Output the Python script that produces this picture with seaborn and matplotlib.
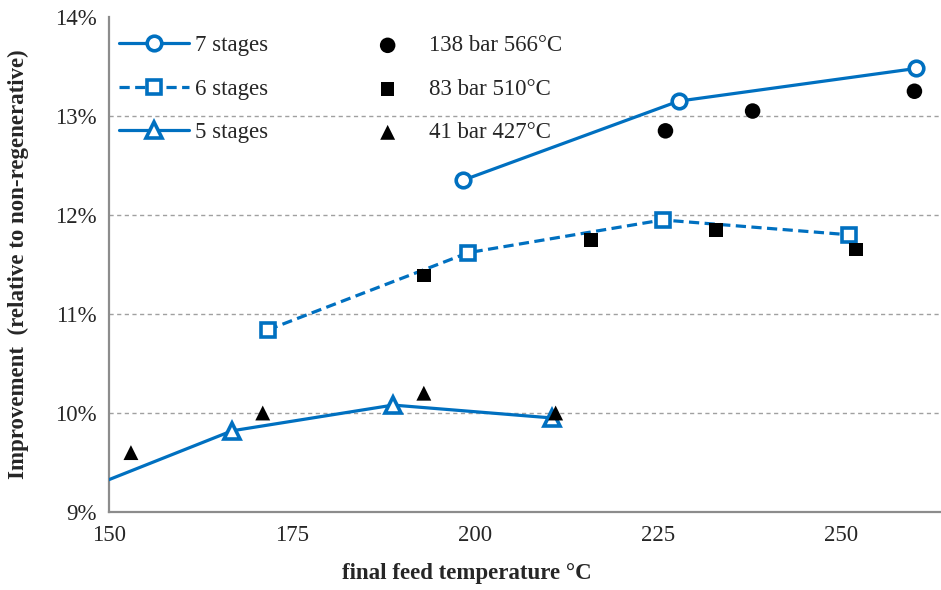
import matplotlib
matplotlib.use("Agg")
import matplotlib.pyplot as plt
import seaborn as sns
import pandas as pd
from matplotlib.ticker import FuncFormatter

# ---- data ----
x7 = [198.3, 227.8, 260.2]
y7 = [12.35, 13.15, 13.48]
x6 = [171.7, 199.1, 225.6, 251.1]
y6 = [10.84, 11.62, 11.95, 11.80]
x5 = [145.0, 166.8, 188.8, 210.5]
y5 = [9.18, 9.82, 10.08, 9.95]

xc = [226.0, 237.9, 260.0]
yc = [12.85, 13.05, 13.25]
xs = [193.0, 215.8, 232.9, 252.0]
ys = [11.39, 11.75, 11.85, 11.65]
xt = [153.0, 171.0, 193.0, 211.0]
yt = [9.60, 10.00, 10.20, 10.00]

line_labels = ["7 stages", "6 stages", "5 stages"]
pt_labels = ["138 bar 566°C", "83 bar 510°C", "41 bar 427°C"]
xticks = [150, 175, 200, 225, 250]
yticks = [9, 10, 11, 12, 13, 14]
xlabel = "final feed temperature °C"
ylabel = "Improvement  (relative to non-regenerative)"

sns.set_style("white")
plt.rcParams["font.family"] = ["Liberation Serif", "DejaVu Serif"]

BLUE = "#0070C0"
FS = 16.5
fig = plt.figure(figsize=(9.41, 5.90), dpi=100)
ax = fig.add_axes([0.1158, 0.1322, 0.8832, 0.8390])

for y in yticks[1:-1]:
    ax.axhline(y, color="#a0a0a0", lw=1.0, ls=(0, (3, 2.5)), zorder=0)

lw = 2.3
sns.lineplot(x=x7, y=y7, ax=ax, color=BLUE, lw=lw, marker="o", markersize=10.5,
             markerfacecolor="white", markeredgecolor=BLUE, markeredgewidth=2.6,
             sort=False, label=line_labels[0], zorder=3)
sns.lineplot(x=x6, y=y6, ax=ax, color=BLUE, lw=lw, marker="s", markersize=10.5,
             markerfacecolor="white", markeredgecolor=BLUE, markeredgewidth=2.6,
             sort=False, label=line_labels[1], zorder=3)
ax.lines[-1].set_dashes((3.2, 1.7))
sns.lineplot(x=x5, y=y5, ax=ax, color=BLUE, lw=lw, marker="^", markersize=11,
             markerfacecolor="white", markeredgecolor=BLUE, markeredgewidth=2.6,
             sort=False, label=line_labels[2], zorder=3)

sns.scatterplot(x=xc, y=yc, ax=ax, marker="o", s=125, color="black", edgecolor="none",
                label=pt_labels[0], zorder=4)
sns.scatterplot(x=xs, y=ys, ax=ax, marker="s", s=95, color="black", edgecolor="none",
                label=pt_labels[1], zorder=4)
sns.scatterplot(x=xt, y=yt, ax=ax, marker="^", s=115, color="black", edgecolor="none",
                label=pt_labels[2], zorder=4)

ax.set_xlim(150, 263.5)
ax.set_ylim(9, 14)
ax.set_xticks(xticks)
ax.set_yticks(yticks)
ax.yaxis.set_major_formatter(FuncFormatter(lambda v, p: f"{v:.0f}%"))
ax.tick_params(axis="both", direction="out", length=5, width=1.2, color="#8c8c8c",
               labelsize=FS, pad=4)
for s in ["top", "right"]:
    ax.spines[s].set_visible(False)
for s in ["left", "bottom"]:
    ax.spines[s].set_color("#8c8c8c")
    ax.spines[s].set_linewidth(1.6)

ax.set_xlabel(xlabel, fontsize=FS, fontweight="bold")
ax.set_ylabel(ylabel, fontsize=FS, fontweight="bold")
ax.xaxis.set_label_coords(0.431, -0.103)
ax.yaxis.set_label_coords(-0.096, 0.5)

h, l = ax.get_legend_handles_labels()
ax.legend(h, l, ncol=2, loc="upper left", bbox_to_anchor=(0.012, 0.963),
          frameon=False, fontsize=FS, handlelength=3.05, handletextpad=0.26,
          columnspacing=3.7, labelspacing=0.98, borderpad=0, borderaxespad=0,
          numpoints=1)

fig.savefig("out.png", dpi=100)
